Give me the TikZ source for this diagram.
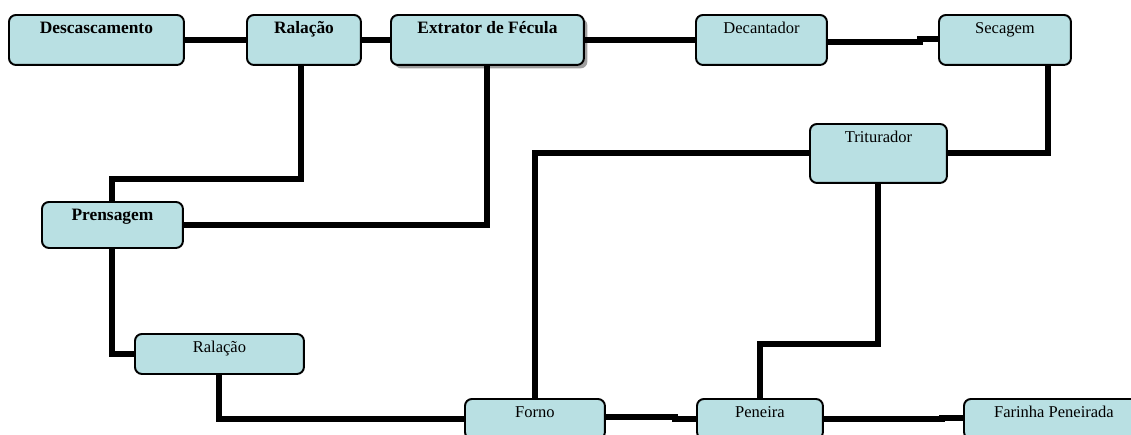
\documentclass[tikz,border=0pt]{standalone}
\usepackage{fontspec}
\setmainfont{Liberation Serif}
\usepackage{tikz}
\usetikzlibrary{positioning, shadows, calc}
\definecolor{caixaazul}{HTML}{B9E0E3}

\begin{document}
\begin{tikzpicture}[
      x=0.02cm, y=-0.02cm,
      every node/.style={font=\fontsize{9.4}{11}\selectfont},
      etapa/.style={draw, line width=1.1pt, rounded corners=0.14cm, fill=caixaazul,
                    anchor=north west, inner xsep=0pt, inner ysep=0.12cm,
                    text height=0.25cm, text depth=0.51cm},
      etapaforte/.style={etapa, font=\fontsize{9.9}{11}\selectfont\bfseries},
      fio/.style={line width=3.4pt},
    ]
    \useasboundingbox (0,0) rectangle (1131,434);
    \clip (0,0) rectangle (1131,434);
    % linha de cima
    \node[etapaforte, minimum width=3.5cm]  (desc) at (8,14)   {Descascamento};
    \node[etapaforte, minimum width=2.28cm] (ral1) at (246,14) {Ralação};
    \node[etapaforte, minimum width=3.86cm,
          drop shadow={shadow xshift=0.07cm, shadow yshift=-0.07cm, fill=gray!75, opacity=1}]
                                            (extr) at (390,14) {Extrator de Fécula};
    \node[etapa, minimum width=2.62cm]      (dec)  at (695,14) {Decantador};
    \node[etapa, minimum width=2.64cm]      (sec)  at (938,14) {Secagem};
    % meio
    \node[etapa, minimum width=2.74cm, text depth=0.69cm] (trit) at (809,123) {Triturador};
    \node[etapaforte, minimum width=2.82cm, text depth=0.43cm] (prens) at (41,201) {Prensagem};
    \node[etapa, minimum width=3.38cm, text depth=0.31cm] (ral2) at (134,333) {Ralação};
    % linha de baixo
    \node[etapa, minimum width=2.8cm, text depth=0.31cm]  (forno) at (464,398) {Forno};
    \node[etapa, minimum width=2.52cm, text depth=0.31cm] (pen)   at (696,398) {Peneira};
    \node[etapa, minimum width=3.6cm, text depth=0.31cm]  (far)   at (963,398) {Farinha Peneirada};

    \draw[fio] (desc) -- (ral1);
    \draw[fio] (ral1) -- (extr);
    \draw[fio] (extr) -- (dec);
    \draw[fio] ([yshift=-0.04cm]dec.east) -- ++(92,0) |- ([yshift=0.02cm]sec.west);
    \draw[fio] ([xshift=0.86cm]sec.south) |- (trit.east);
    \draw[fio] (trit.west) -| (forno.north);
    \draw[fio] (trit.south) -- ++(0,160) -| (pen.north);
    \draw[fio] ([xshift=-0.06cm]ral1.south) -- ++(0,113) -| (prens.north);
    \draw[fio] (extr.south) |- (prens.east);
    \draw[fio] (prens.south) |- (ral2.west);
    \draw[fio] (ral2.south) |- (forno.west);
    \draw[fio] ([yshift=0.04cm]forno.east) -- ++(69,0) |- (pen.west);
    \draw[fio] (pen.east) -- ++(118,0) |- ([yshift=0.02cm]far.west);
  \end{tikzpicture}
\end{document}
